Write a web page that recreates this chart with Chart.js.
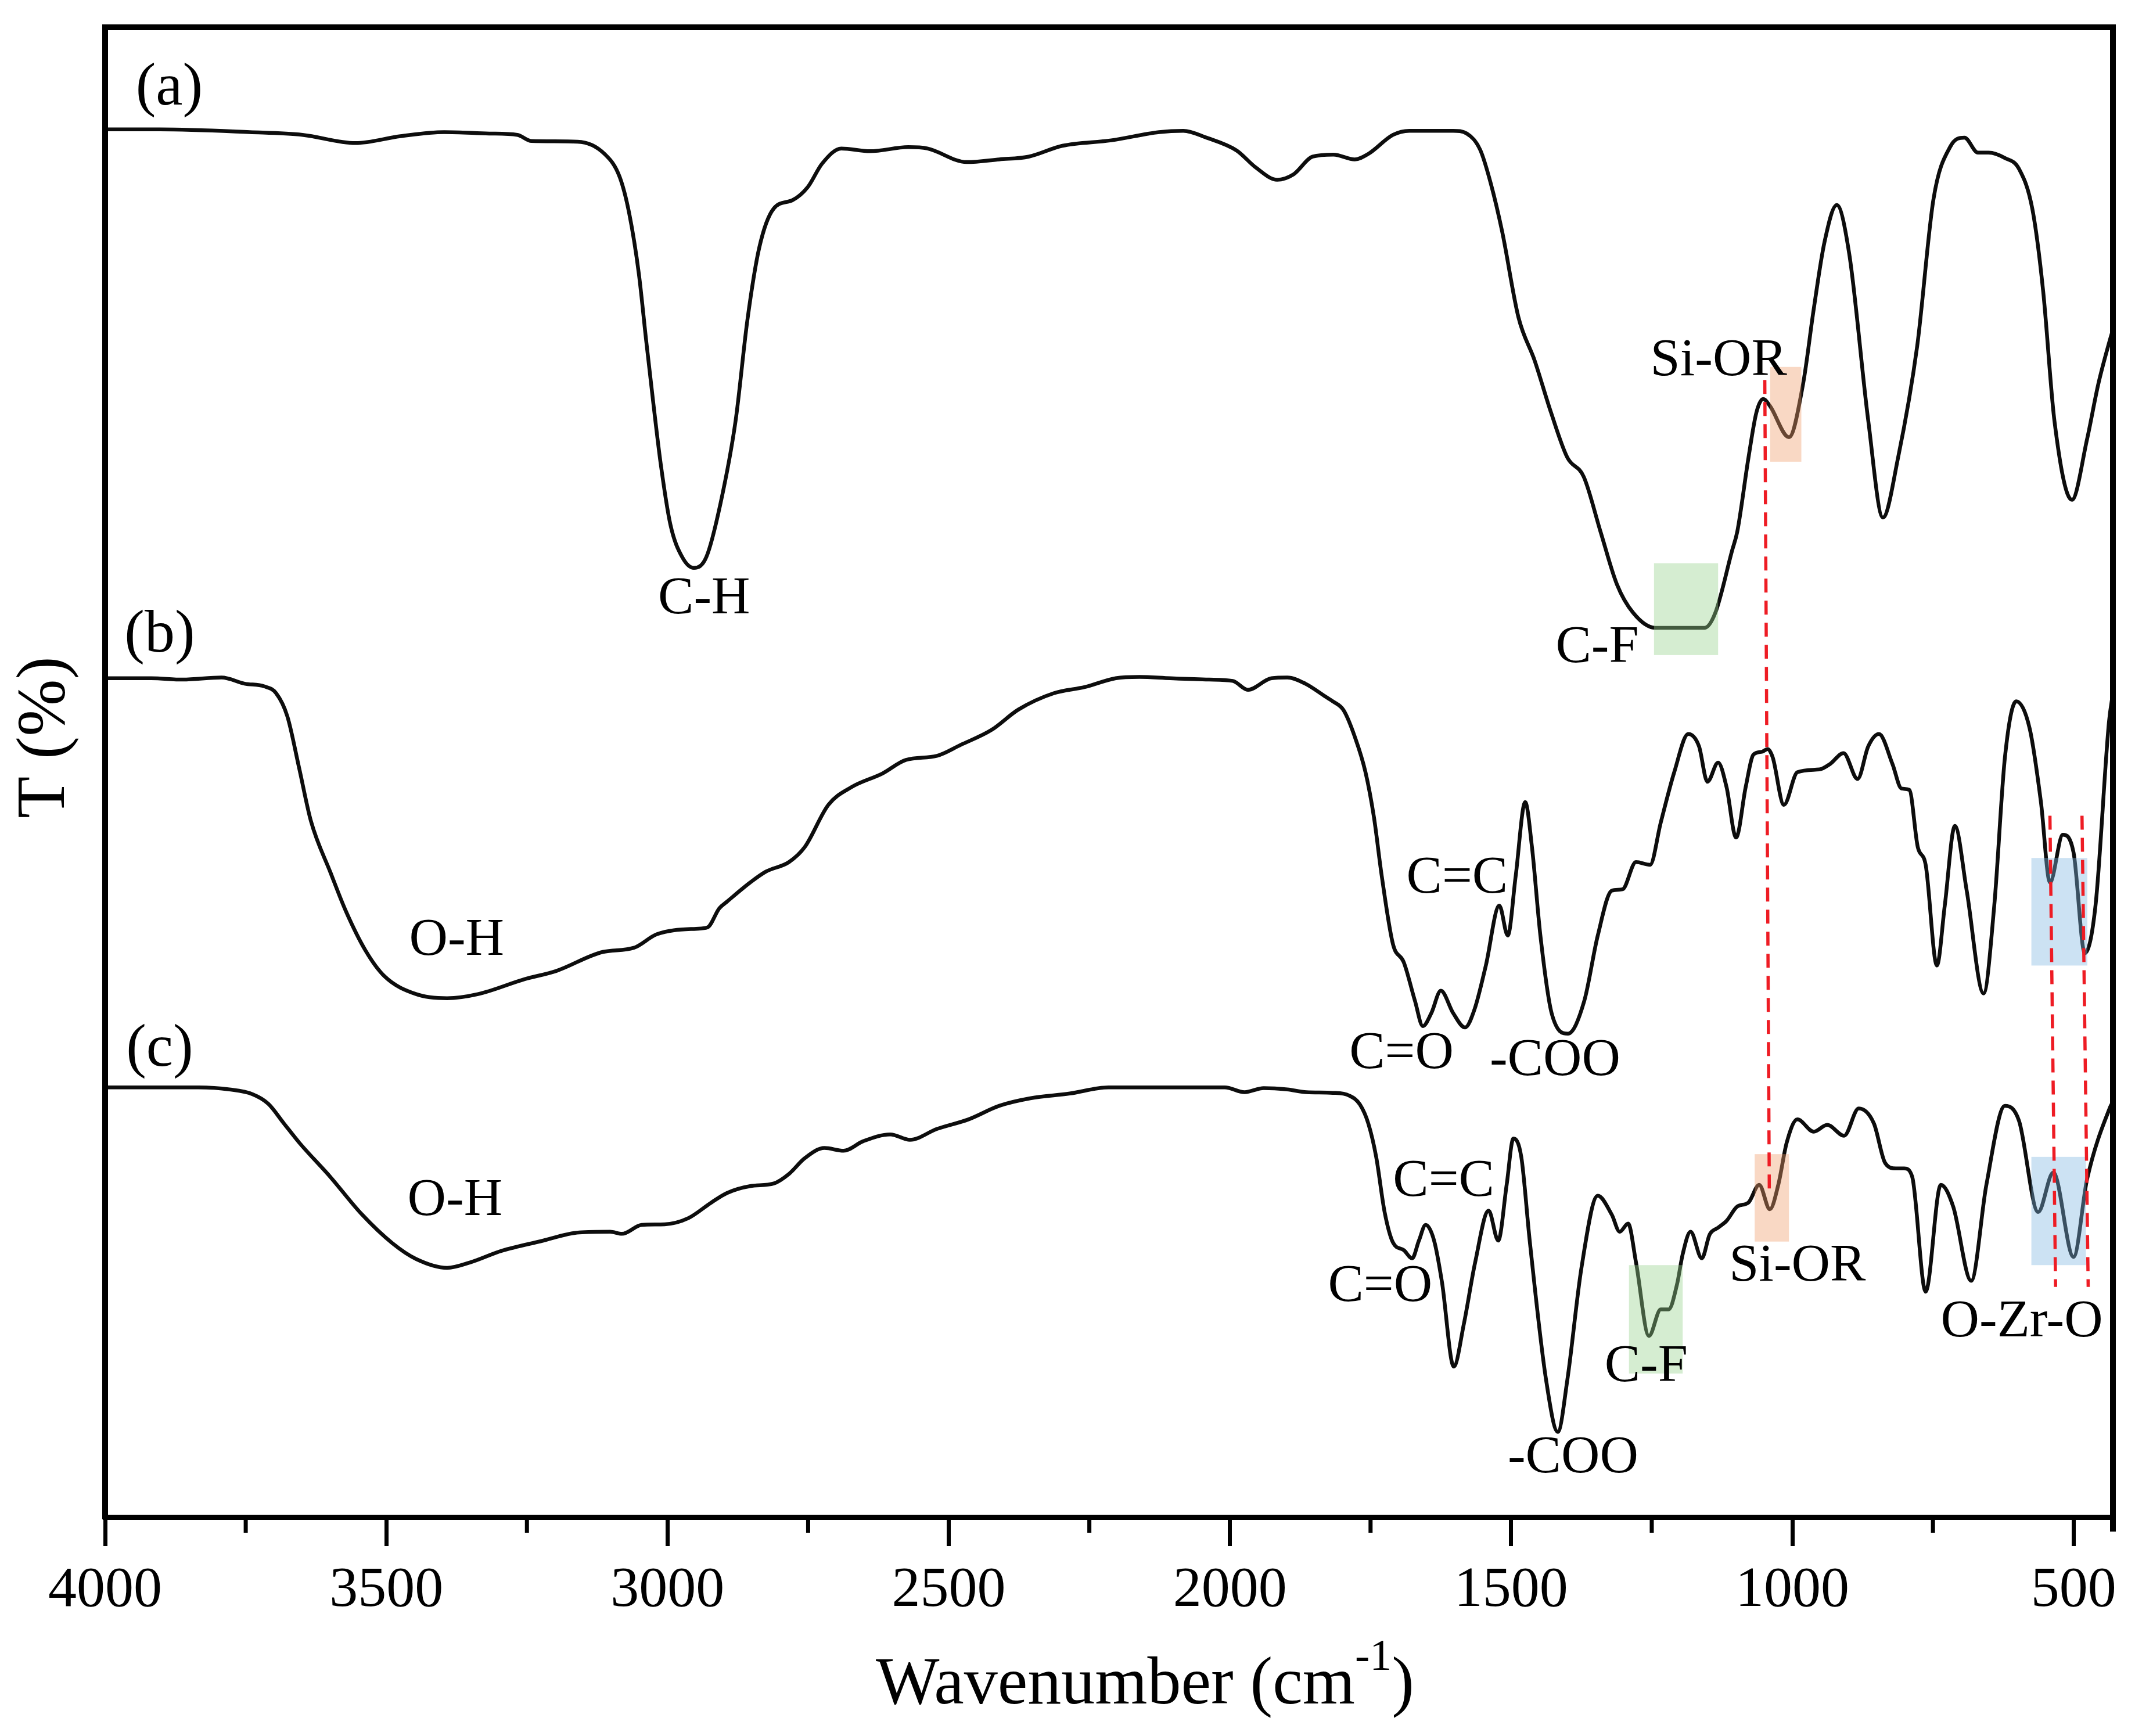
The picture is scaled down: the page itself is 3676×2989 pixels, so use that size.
<!DOCTYPE html>
<html><head><meta charset="utf-8">
<script src="https://cdn.jsdelivr.net/npm/chart.js@4.4.1/dist/chart.umd.min.js"></script>
<style>html,body{margin:0;padding:0;background:#fff;}#wrap{width:3676px;height:2989px;position:relative;background:#fff;}</style>
</head><body><div id="wrap"><canvas id="c" width="3676" height="2989"></canvas></div>
<script>
// ---- data (wavenumber in cm-1, transmittance in arbitrary offset units) ----
const waveA = [4000,3903,3743,3649,3555,3475,3397,3317,3267,3242,3160,3112,3085,3068,3051,3038,3025,3012,2995,2974,2953,2931,2906,2879,2858,2837,2811,2778,2751,2725,2691,2640,2572,2538,2468,2410,2358,2298,2211,2126,2083,2042,1988,1954,1916,1887,1853,1816,1778,1754,1710,1681,1603,1579,1555,1536,1516,1487,1458,1429,1400,1371,1341,1312,1283,1244,1156,1137,1107,1098,1078,1064,1052,1040,1006,981,962,943,921,899,865,839,812,778,749,719,694,670,651,622,597,573,554,534,503,476,456,435,430];
const tA = [101.9,101.9,101.7,101.5,100.9,101.4,101.7,101.6,101.5,101.05,101.0,100.1,98.4,95.7,91.3,86.4,81.7,77.3,72.9,70.5,69.7,70.5,74.4,80.5,87.9,93.2,96.1,96.7,97.65,99.4,100.5,100.3,100.6,100.5,99.5,99.7,99.9,100.7,101.1,101.7,101.8,101.3,100.35,99.1,98.2,98.6,99.9,100.05,99.7,100.1,101.5,101.8,101.8,101.6,100.4,97.9,94.4,88.1,84.9,81.1,77.8,76.4,72.35,68.5,66.4,65.3,65.3,66.4,71.0,72.35,77.8,81.1,82.1,81.6,79.3,83.2,88.7,93.6,96.35,92.8,80.5,73.4,77.8,86.0,96.8,100.65,101.3,100.2,100.2,99.8,99.0,96.0,90.0,80.5,74.7,79.15,83.2,86.5,87.2];

const waveB = [4000,3918,3862,3793,3752,3717,3696,3676,3655,3634,3599,3572,3537,3503,3447,3392,3337,3254,3198,3115,3060,3019,2949,2929,2908,2894,2853,2825,2784,2756,2714,2673,2618,2576,2521,2479,2424,2376,2313,2258,2203,2161,2106,2037,1995,1968,1926,1898,1866,1832,1817,1798,1778,1759,1744,1730,1710,1691,1671,1657,1642,1625,1603,1582,1565,1545,1521,1506,1492,1475,1463,1448,1428,1399,1370,1346,1321,1302,1278,1253,1234,1210,1185,1166,1151,1132,1117,1100,1083,1069,1054,1044,1035,1015,991,952,933,909,884,865,846,822,806,792,777,763,743,729,711,690,660,641,622,602,578,558,542,519,500,480,461,437,430];
const tB = [61.6,61.6,61.5,61.65,61.2,61.0,60.5,58.8,55.0,51.1,47.3,44.5,41.6,39.7,38.4,38.1,38.4,39.5,40.1,41.5,41.8,42.8,43.2,43.3,44.7,45.2,46.6,47.4,48.1,49.2,52.3,53.6,54.6,55.6,55.9,56.7,57.8,59.3,60.5,60.95,61.6,61.7,61.6,61.5,61.4,60.75,61.6,61.65,61.2,60.3,59.9,59.25,57.3,54.7,51.4,47.05,42.05,40.75,37.9,36.05,37.0,38.65,37.0,35.95,37.3,40.5,44.9,42.7,47.05,52.5,49.2,42.7,37.0,35.5,37.9,42.7,46.0,46.1,48.1,47.9,51.0,54.7,57.5,56.6,54.0,55.4,53.6,49.9,53.6,56.0,56.2,56.4,55.8,52.3,54.7,54.9,55.3,56.1,54.2,56.6,57.5,55.3,53.5,53.4,49.2,47.9,40.5,44.9,50.75,46.0,38.45,44.9,55.8,59.9,57.9,52.5,46.6,50.1,48.8,41.4,44.9,58.4,60.5];

const waveC = [4000,3834,3779,3738,3710,3682,3655,3599,3544,3489,3447,3392,3351,3295,3226,3157,3102,3081,3046,3005,2963,2922,2894,2853,2811,2784,2756,2721,2687,2652,2604,2569,2521,2465,2410,2355,2285,2216,2009,1974,1940,1898,1864,1817,1788,1769,1754,1740,1725,1710,1691,1676,1664,1652,1637,1623,1602,1584,1564,1540,1523,1508,1496,1482,1467,1438,1417,1400,1375,1346,1321,1307,1292,1278,1255,1234,1220,1205,1195,1181,1161,1147,1132,1117,1098,1078,1059,1040,1025,1010,991,962,938,908,882,855,835,816,801,787,763,736,714,682,655,622,597,563,536,500,476,435,430];
const tC = [31.55,31.55,31.4,31.05,30.35,28.9,27.5,24.95,22.25,20.1,18.95,18.3,18.7,19.55,20.25,20.9,20.95,20.8,21.45,21.5,21.95,23.1,23.8,24.3,24.5,25.2,26.35,27.1,26.9,27.6,28.1,27.7,28.5,29.2,30.2,30.75,31.1,31.55,31.55,31.2,31.5,31.4,31.2,31.15,30.95,30.3,28.9,26.45,22.4,20.15,19.6,19.0,20.3,21.45,20.3,17.25,11.05,14.2,18.7,22.5,20.3,24.4,27.8,26.45,20.3,10.1,6.25,10.1,18.3,23.6,22.2,20.95,21.55,18.7,13.3,15.25,15.25,17.1,19.3,20.95,19.0,20.75,21.25,21.75,22.8,23.1,24.4,22.6,24.4,27.5,29.2,28.3,28.8,28.0,30.0,28.9,26.0,25.6,25.6,25.0,16.55,24.4,22.8,17.35,24.4,30.2,29.1,22.4,25.3,19.1,24.8,30.1,30.5];

const xTickValues = [4000,3500,3000,2500,2000,1500,1000,500];
const xMinorTickValues = [3750,3250,2750,2250,1750,1250,750];

// annotation texts and their anchors (wavenumber, T)
const noteText = ['(a)','(b)','(c)','C-H','C-F','Si-OR','O-H','C=C','C=O','-COO','O-H','C=C','C=O','-COO','C-F','Si-OR','O-Zr-O'];
const noteWave = [3886,3903,3903,2935,1347,1131,3375,1596,1695,1422,3378,1620,1733,1390,1260,991,592];
const noteT    = [104.9,64.7,34.3,67.4,63.8,84.9,42.3,46.9,34.0,33.5,23.2,24.6,16.9,4.3,11.0,18.4,14.3];

// highlighted bands: [wave1, wave2, T1, T2]
const bandWave1 = [1039.5,1246,575,575,1067,1290.5];
const bandWave2 = [984,1132,475.5,478,1006,1195];
const bandT1    = [84.46,70.04,48.4,26.45,26.65,18.5];
const bandT2    = [77.5,63.3,40.5,18.5,20.23,10.54];
const bandKind  = ['orange','green','blue','blue','orange','green'];

// red dashed guide lines: from (w1,t1) to (w2,t2)
const guideW1 = [1049,542,485];
const guideT1 = [83.5,51.5,51.5];
const guideW2 = [1041,532,474];
const guideT2 = [24.0,16.9,16.9];

const bandColors = {orange:'rgba(240,157,107,0.4)', green:'rgba(150,210,140,0.4)', blue:'rgba(127,182,225,0.4)'};
const SERIF = '"Liberation Serif","Times New Roman",serif';

function pts(w,t){return w.map((v,i)=>({x:v,y:t[i]}));}

const decor = {
  id:'decor',
  afterDatasetsDraw(chart){
    const ctx=chart.ctx, x=chart.scales.x, y=chart.scales.y;
    ctx.save();
    for(let i=0;i<bandWave1.length;i++){
      const x1=x.getPixelForValue(bandWave1[i]), x2=x.getPixelForValue(bandWave2[i]);
      const y1=y.getPixelForValue(bandT1[i]), y2=y.getPixelForValue(bandT2[i]);
      ctx.fillStyle=bandColors[bandKind[i]];
      ctx.fillRect(Math.min(x1,x2),Math.min(y1,y2),Math.abs(x2-x1),Math.abs(y2-y1));
    }
    ctx.strokeStyle='rgb(238,28,36)'; ctx.lineWidth=5.5; ctx.setLineDash([24,14]);
    for(let i=0;i<guideW1.length;i++){
      ctx.beginPath();
      ctx.moveTo(x.getPixelForValue(guideW1[i]),y.getPixelForValue(guideT1[i]));
      ctx.lineTo(x.getPixelForValue(guideW2[i]),y.getPixelForValue(guideT2[i]));
      ctx.stroke();
    }
    ctx.setLineDash([]);
    ctx.fillStyle='#000'; ctx.textAlign='center'; ctx.textBaseline='middle';
    for(let i=0;i<noteText.length;i++){
      const big = noteText[i].startsWith('(');
      ctx.font=(big?104:92)+'px '+SERIF;
      ctx.fillText(noteText[i], x.getPixelForValue(noteWave[i]), y.getPixelForValue(noteT[i]));
    }
    ctx.restore();
  },
  afterDraw(chart){
    const ctx=chart.ctx, a=chart.chartArea, x=chart.scales.x;
    ctx.save();
    ctx.strokeStyle='#000'; ctx.lineWidth=10; ctx.lineCap='butt';
    ctx.beginPath();
    ctx.moveTo(a.left,a.bottom+4); ctx.lineTo(a.left,a.top-5);
    ctx.moveTo(a.left-5,a.top); ctx.lineTo(a.right+5,a.top);
    ctx.moveTo(a.right,a.top-5); ctx.lineTo(a.right,a.bottom+25);
    ctx.stroke();
    ctx.lineWidth=7;
    ctx.beginPath();
    for(const v of xMinorTickValues){const px=x.getPixelForValue(v); ctx.moveTo(px,a.bottom); ctx.lineTo(px,a.bottom+27);}
    ctx.stroke();
    // x title
    ctx.fillStyle='#000'; ctx.textBaseline='alphabetic'; ctx.textAlign='left';
    const main='Wavenumber (cm', sup='-1', end=')';
    ctx.font='116px '+SERIF; const wm=ctx.measureText(main).width, we=ctx.measureText(end).width;
    ctx.font='76px '+SERIF; const ws=ctx.measureText(sup).width;
    const total=wm+ws+we; const cx=(a.left+a.right)/2+62; let sx=cx-total/2; const by=a.bottom+321;
    ctx.font='116px '+SERIF; ctx.fillText(main,sx,by); sx+=wm;
    ctx.font='76px '+SERIF; ctx.fillText(sup,sx,by-58); sx+=ws;
    ctx.font='116px '+SERIF; ctx.fillText(end,sx,by);
    // y title
    ctx.translate(79,(a.top+a.bottom)/2-60); ctx.rotate(-Math.PI/2);
    ctx.textAlign='center'; ctx.textBaseline='middle'; ctx.font='118px '+SERIF;
    ctx.fillText('T (%)',0,0);
    ctx.restore();
  }
};

new Chart(document.getElementById('c'),{
  type:'line',
  data:{datasets:[
    {label:'(a)',data:pts(waveA,tA)},
    {label:'(b)',data:pts(waveB,tB)},
    {label:'(c)',data:pts(waveC,tC)}
  ].map(d=>Object.assign(d,{borderColor:'#0d0d0d',borderWidth:6.5,pointRadius:0,fill:false,cubicInterpolationMode:'monotone'}))},
  options:{
    responsive:false, animation:false, devicePixelRatio:1,
    layout:{padding:{left:181,right:38,top:47,bottom:0}},
    plugins:{legend:{display:false},tooltip:{enabled:false}},
    scales:{
      x:{type:'linear',min:430,max:4000,reverse:true,
        afterBuildTicks(s){s.ticks=xTickValues.map(v=>({value:v}));},
        afterFit(s){s.height=377;},
        ticks:{autoSkip:false,maxRotation:0,padding:18,color:'#000',font:{family:SERIF,size:98},callback:v=>String(v)},
        grid:{display:true,drawOnChartArea:false,drawTicks:true,tickLength:50,tickWidth:7,tickColor:'#000'},
        border:{display:true,width:9,color:'#000'}
      },
      y:{type:'linear',min:0,max:109.4,display:false}
    }
  },
  plugins:[decor]
});
</script></body></html>
